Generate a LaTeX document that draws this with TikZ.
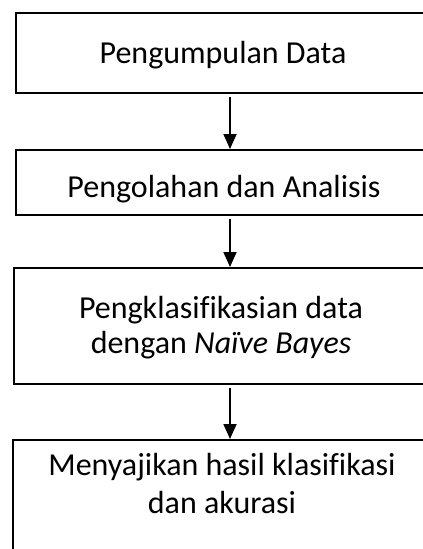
\documentclass[tikz,border=0pt]{standalone}
\usepackage{fontspec}
\setmainfont{Carlito}[Ligatures=CommonOff]
\usetikzlibrary{arrows.meta}
\begin{document}
\begin{tikzpicture}[x=1pt,y=-1pt,
  box/.style={draw, line width=2.2pt, inner sep=0pt, anchor=north west},
  lbl/.style={align=center, inner sep=0pt, anchor=base},
  flow/.style={-{Triangle[width=13pt,length=15pt]}, line width=1.8pt, shorten <=3pt}]
\useasboundingbox (0,0) rectangle (423,549);
\node[box, minimum width=425pt, minimum height=79.5pt] (b1) at (15,12) {};
\node[box, minimum width=425pt, minimum height=65pt] (b2) at (15,149) {};
\node[box, minimum width=429pt, minimum height=116pt] (b3) at (13,267) {};
\node[box, minimum width=432pt, minimum height=150pt] (b4) at (11.5,439) {};
\node[lbl, font=\fontsize{32}{37}\selectfont] (t1) at (223,63) {Pengumpulan Data};
\node[lbl, font=\fontsize{32}{37}\selectfont] (t2) at (224,197) {Pengolahan dan Analisis};
\node[lbl, font=\fontsize{32}{35}\selectfont] (t3) at (221,353) {Pengklasifikasian data\\dengan \textit{Naïve Bayes}};
\node[lbl, font=\fontsize{32}{38}\selectfont] (t4) at (222,513) {Menyajikan hasil klasifikasi\\dan akurasi};
\coordinate (ax) at (230,0);
\draw[flow] (b1.south -| ax) -- (b2.north -| ax);
\draw[flow] (b2.south -| ax) -- (b3.north -| ax);
\draw[flow] (b3.south -| ax) -- (b4.north -| ax);
\end{tikzpicture}
\end{document}
